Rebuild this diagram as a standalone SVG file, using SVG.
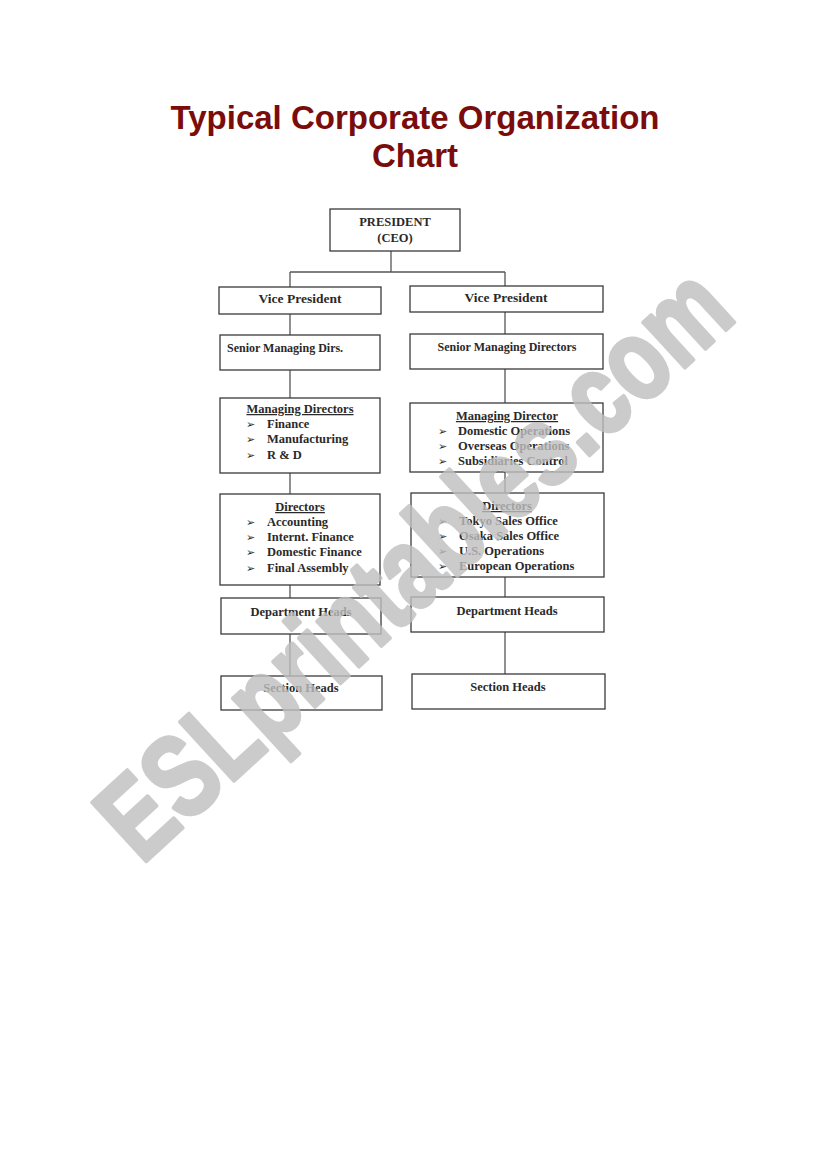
<svg xmlns="http://www.w3.org/2000/svg" width="821" height="1169" viewBox="0 0 821 1169">
<style>
.title{font-family:"Liberation Sans",Arial,sans-serif;font-weight:bold;font-size:33px;fill:#7a0c0c;text-anchor:middle}
.box{fill:#fff;stroke:#3a3a3a;stroke-width:1.3}
.t{font-family:"Liberation Serif","Times New Roman",serif;font-weight:bold;font-size:12.5px;fill:#2a2a2a}
.c{text-anchor:middle}
.u{text-decoration:underline}
.b{font-family:"DejaVu Sans",sans-serif;font-size:11px;fill:#2a2a2a}
.conn line{stroke:#555;stroke-width:1.3}
.wm{font-family:"Liberation Sans",Arial,sans-serif;font-weight:bold;font-size:116px;fill:#bfbfbf;stroke:#bfbfbf;stroke-width:4;stroke-linejoin:round;opacity:0.8;text-anchor:middle}
</style>
<rect width="821" height="1169" fill="#fff"/>
<g id="title">
<text class="title" x="415" y="129">Typical Corporate Organization</text>
<text class="title" x="415" y="167">Chart</text>
</g>
<g class="conn" id="connectors">
<line x1="391" y1="251" x2="391" y2="272"/>
<line x1="290" y1="272" x2="505" y2="272"/>
<line x1="290" y1="272" x2="290" y2="287"/>
<line x1="505" y1="272" x2="505" y2="286"/>
<line x1="290" y1="314" x2="290" y2="335"/>
<line x1="290" y1="370" x2="290" y2="398"/>
<line x1="290" y1="473" x2="290" y2="494"/>
<line x1="290" y1="585" x2="290" y2="598"/>
<line x1="290" y1="634" x2="290" y2="676"/>
<line x1="505" y1="312" x2="505" y2="334"/>
<line x1="505" y1="369" x2="505" y2="403"/>
<line x1="505" y1="472" x2="505" y2="493"/>
<line x1="505" y1="577" x2="505" y2="597"/>
<line x1="505" y1="632" x2="505" y2="674"/>
</g>
<g id="president">
<rect class="box" x="330" y="209" width="130" height="42"/>
<text class="t c" x="395" y="226">PRESIDENT</text>
<text class="t c" x="395" y="242">(CEO)</text>
</g>
<g id="vp-left">
<rect class="box" x="219" y="287" width="162" height="27"/>
<text class="t c" x="300" y="303" style="font-size:13.5px">Vice President</text>
</g>
<g id="vp-right">
<rect class="box" x="410" y="286" width="193" height="26"/>
<text class="t c" x="506" y="302" style="font-size:13.5px">Vice President</text>
</g>
<g id="smd-left">
<rect class="box" x="220" y="335" width="160" height="35"/>
<text class="t" x="227" y="352" style="font-size:12px">Senior Managing Dirs.</text>
</g>
<g id="smd-right">
<rect class="box" x="410" y="334" width="193" height="35"/>
<text class="t c" x="507" y="351" style="font-size:12px">Senior Managing Directors</text>
</g>
<g id="md-left">
<rect class="box" x="220" y="398" width="160" height="75"/>
<text class="t c u" x="300" y="413">Managing Directors</text>
<text class="b" x="246" y="428">➢</text><text class="t" x="267" y="428">Finance</text>
<text class="b" x="246" y="443">➢</text><text class="t" x="267" y="443">Manufacturing</text>
<text class="b" x="246" y="459">➢</text><text class="t" x="267" y="459">R &amp; D</text>
</g>
<g id="md-right">
<rect class="box" x="410" y="403" width="193" height="69"/>
<text class="t c u" x="507" y="420">Managing Director</text>
<text class="b" x="438" y="435">➢</text><text class="t" x="458" y="435">Domestic Operations</text>
<text class="b" x="438" y="450">➢</text><text class="t" x="458" y="450">Overseas Operations</text>
<text class="b" x="438" y="465">➢</text><text class="t" x="458" y="465">Subsidiaries Control</text>
</g>
<g id="dir-left">
<rect class="box" x="220" y="494" width="160" height="91"/>
<text class="t c u" x="300" y="511">Directors</text>
<text class="b" x="246" y="526">➢</text><text class="t" x="267" y="526">Accounting</text>
<text class="b" x="246" y="541">➢</text><text class="t" x="267" y="541">Internt. Finance</text>
<text class="b" x="246" y="556">➢</text><text class="t" x="267" y="556">Domestic Finance</text>
<text class="b" x="246" y="572">➢</text><text class="t" x="267" y="572">Final Assembly</text>
</g>
<g id="dir-right">
<rect class="box" x="411" y="493" width="193" height="84"/>
<text class="t c u" x="507" y="510">Directors</text>
<text class="b" x="438" y="525">➢</text><text class="t" x="459" y="525">Tokyo Sales Office</text>
<text class="b" x="438" y="540">➢</text><text class="t" x="459" y="540">Osaka Sales Office</text>
<text class="b" x="438" y="555">➢</text><text class="t" x="459" y="555">U.S. Operations</text>
<text class="b" x="438" y="570">➢</text><text class="t" x="459" y="570">European Operations</text>
</g>
<g id="dept-left">
<rect class="box" x="221" y="598" width="160" height="36"/>
<text class="t c" x="301" y="616">Department Heads</text>
</g>
<g id="dept-right">
<rect class="box" x="411" y="597" width="193" height="35"/>
<text class="t c" x="507" y="615">Department Heads</text>
</g>
<g id="sect-left">
<rect class="box" x="221" y="676" width="161" height="34"/>
<text class="t c" x="301" y="692">Section Heads</text>
</g>
<g id="sect-right">
<rect class="box" x="412" y="674" width="193" height="35"/>
<text class="t c" x="508" y="691">Section Heads</text>
</g>
<g id="watermark">
<text class="wm" x="0" y="0" transform="translate(440,592) rotate(-42.5)" textLength="810" lengthAdjust="spacingAndGlyphs">ESLprintables.com</text>
</g>
</svg>
